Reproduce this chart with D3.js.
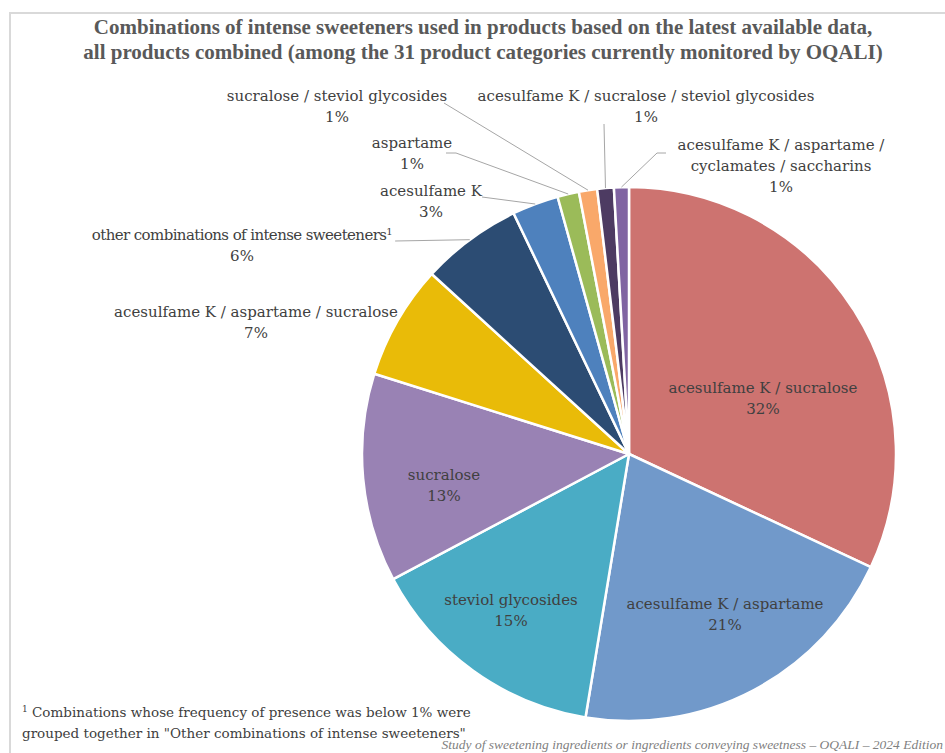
<!DOCTYPE html>
<html>
<head>
<meta charset="utf-8">
<script src="https://cdn.jsdelivr.net/npm/d3@7"></script>
<style>
  html, body { margin: 0; padding: 0; background: #fff; }
  svg { display: block; }
</style>
</head>
<body>
<svg id="chart" width="945" height="753"></svg>
<script>
// ---- data ----
const categories = [
  "acesulfame K / sucralose",
  "acesulfame K / aspartame",
  "steviol glycosides",
  "sucralose",
  "acesulfame K / aspartame / sucralose",
  "other combinations of intense sweeteners",
  "acesulfame K",
  "aspartame",
  "sucralose / steviol glycosides",
  "acesulfame K / sucralose / steviol glycosides",
  "acesulfame K / aspartame / cyclamates / saccharins"
];
const shares = [31.9, 20.6, 14.6, 12.6, 6.9, 6.1, 2.8, 1.3, 1.1, 1.0, 0.9];
const colors = ["#CD7370", "#7199CA", "#4AACC5", "#9982B4", "#E9BB08", "#2C4C73",
                "#4E81BD", "#9BBB59", "#F9A86A", "#4D3B62", "#8064A2"];
const titleLines = [
  "Combinations of intense sweeteners used in products based on the latest available data,",
  "all products combined (among the 31 product categories currently monitored by OQALI)"
];
const footnoteLines = [
  "Combinations whose frequency of presence was below 1% were",
  "grouped together in \"Other combinations of intense sweeteners\""
];
const sourceText = "Study of sweetening ingredients or ingredients conveying sweetness \u2013 OQALI \u2013 2024 Edition";

// ---- layout (label placement, not data) ----
const W = 945, H = 753;
const cx = 629, cy = 454, R = 267;
const labelLayout = [
  { lines: ["acesulfame K / sucralose"], x: 763, y: 393 },
  { lines: ["acesulfame K / aspartame"], x: 725, y: 609 },
  { lines: ["steviol glycosides"], x: 511, y: 605 },
  { lines: ["sucralose"], x: 444, y: 480 },
  { lines: ["acesulfame K / aspartame / sucralose"], x: 256, y: 317 },
  { lines: ["other combinations of intense sweeteners"], x: 242, y: 240, sup: "1", leaderFromText: true, squeeze: 0.93 },
  { lines: ["acesulfame K"], x: 431, y: 196, leader: [[482, 197]] },
  { lines: ["aspartame"], x: 412, y: 148, leader: [[446, 153], [456, 153]] },
  { lines: ["sucralose / steviol glycosides"], x: 337, y: 101, leader: [[444, 103]] },
  { lines: ["acesulfame K / sucralose / steviol glycosides"], x: 646, y: 101, leader: [[604, 124]] },
  { lines: ["acesulfame K / aspartame /", "cyclamates / saccharins"], x: 781, y: 150, leader: [[666, 153], [657, 153]] }
];

const svg = d3.select("#chart");

// frame
svg.append("path")
  .attr("d", `M10,${H} L10,13 L${W},13`)
  .attr("fill", "none").attr("stroke", "#D9D9D9").attr("stroke-width", 2);

// title
const title = svg.append("text")
  .attr("x", 483).attr("y", 34)
  .attr("text-anchor", "middle")
  .attr("font-family", "'Liberation Serif', serif")
  .attr("font-weight", "bold")
  .attr("font-size", 21)
  .attr("fill", "#595959");
titleLines.forEach((t, i) => title.append("tspan").attr("x", 483).attr("dy", i === 0 ? 0 : 25).text(t));

// pie
const pie = d3.pie().sort(null).value(d => d)(shares);
const arc = d3.arc().innerRadius(0).outerRadius(R);
const edgeArc = d3.arc().innerRadius(R).outerRadius(R);

const g = svg.append("g").attr("transform", `translate(${cx},${cy})`);
g.selectAll("path.slice")
  .data(pie)
  .join("path")
  .attr("class", "slice")
  .attr("d", arc)
  .attr("fill", (d, i) => colors[i])
  .attr("stroke", "#fff")
  .attr("stroke-width", 2.5)
  .attr("stroke-linejoin", "round");

const leaderLayer = svg.append("g");

// labels
const lineH = 21;
pie.forEach((d, i) => {
  const L = labelLayout[i];
  const t = svg.append("text")
    .attr("text-anchor", "middle")
    .attr("font-family", "'DejaVu Serif', serif")
    .attr("font-size", 15)
    .attr("fill", "#404040");
  const lines = L.lines.concat([Math.round(shares[i]) + "%"]);
  const spans = [];
  lines.forEach((ln, k) => {
    const sp = t.append("tspan").attr("x", L.x).attr("y", L.y + k * lineH).text(ln);
    if (k === 0 && L.squeeze) sp.attr("letter-spacing", -0.6);
    spans.push(sp);
  });
  if (L.sup) {
    spans[0].append("tspan").attr("baseline-shift", "super").attr("font-size", 10).text(L.sup);
  }
  // leader line
  let start = L.leader;
  if (L.leaderFromText) {
    const bb = spans[0].node().getBBox ? t.node().getBBox() : null;
    const len = spans[0].node().getComputedTextLength();
    start = [[L.x + len / 2 + 3, L.y + 1]];
  }
  if (start) {
    const end = edgeArc.centroid(d);
    const pts = start.concat([[end[0] + cx, end[1] + cy]]);
    leaderLayer.append("polyline")
      .attr("points", pts.map(p => p.join(",")).join(" "))
      .attr("fill", "none")
      .attr("stroke", "#A6A6A6")
      .attr("stroke-width", 1);
  }
});

// footnote
const fn = svg.append("text")
  .attr("font-family", "'DejaVu Serif', serif")
  .attr("font-size", 13.5)
  .attr("fill", "#404040");
const fl1 = fn.append("tspan").attr("x", 22).attr("y", 717);
fl1.append("tspan").attr("baseline-shift", "super").attr("font-size", 9).text("1");
fl1.append("tspan").text(" " + footnoteLines[0]);
fn.append("tspan").attr("x", 22).attr("y", 738).text(footnoteLines[1]);

// source
svg.append("text")
  .attr("x", 943).attr("y", 749)
  .attr("text-anchor", "end")
  .attr("font-family", "'Liberation Serif', serif")
  .attr("font-style", "italic")
  .attr("font-size", 13.5)
  .attr("fill", "#7F7F7F")
  .text(sourceText);
</script>
</body>
</html>
